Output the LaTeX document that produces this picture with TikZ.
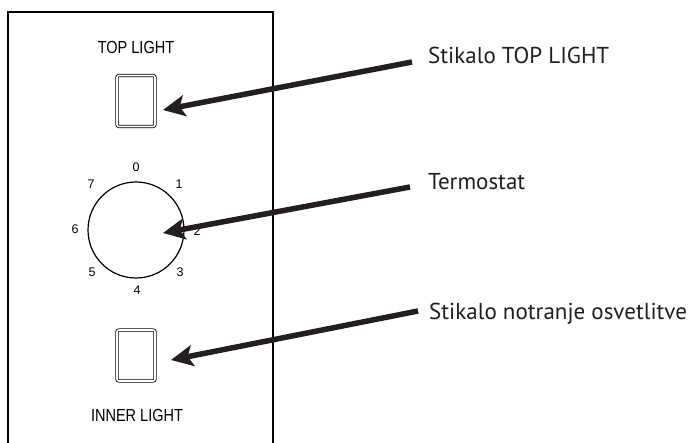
\documentclass[tikz,border=0pt]{standalone}
\usepackage{fontspec}
\usepackage{graphicx}
\usetikzlibrary{arrows.meta}
\newfontfamily\panelfont{Liberation Sans}
\newfontfamily\calloutfont{PT Sans}
\newcommand{\narrowtext}[1]{\scalebox{0.83}[1]{#1}}
\definecolor{printblack}{HTML}{231F20}

\begin{document}
\begin{tikzpicture}[x=1pt, y=-1pt, >={Stealth[length=22pt,width=21pt,inset=5pt]},
  switchbox/.style={draw, double, double distance=1.6pt, line width=0.8pt, rounded corners=2pt, minimum width=38pt, minimum height=51pt, inner sep=0pt},
  dialring/.style={draw, circle, line width=1.2pt, minimum size=96pt, inner sep=0pt},
  dialdigit/.style={font=\panelfont\fontsize{12.5}{12.5}\selectfont, inner sep=0pt},
  paneltext/.style={font=\panelfont\fontsize{17.5}{17.5}\selectfont, inner sep=0pt},
  calloutlabel/.style={font=\calloutfont\fontsize{23}{23}\selectfont, text=printblack, inner sep=0pt, anchor=base west},
  pointer/.style={->, line width=5.5pt, printblack}]
\useasboundingbox (0,0) rectangle (691,443);
\clip (0,0) rectangle (691,443);
\fill[white] (0,0) rectangle (691,443);
% front panel, cut off at the bottom
\draw[line width=2pt] (8,460) -- (8,12) -- (273,12) -- (273,460);
\node[paneltext] (topText) at (136,47) {\narrowtext{TOP LIGHT}};
\node[switchbox] (swTop) at (136,101) {};
\node[dialring] (dial) at (136,230) {};
\node[dialdigit] (d0) at (136,167) {0};
\node[dialdigit] (d1) at (179,184) {1};
\node[dialdigit] (d2) at (197,231) {2};
\node[dialdigit] (d3) at (180,272) {3};
\node[dialdigit] (d4) at (137,290) {4};
\node[dialdigit] (d5) at (92,272) {5};
\node[dialdigit] (d6) at (75,229) {6};
\node[dialdigit] (d7) at (91,184) {7};
\node[switchbox] (swInner) at (136,355.5) {};
\node[paneltext] (innerText) at (137,415) {\narrowtext{INNER LIGHT}};
% callouts
\node[calloutlabel] (lblTop) at (428,64) {Stikalo TOP LIGHT};
\node[calloutlabel] (lblDial) at (428,190) {Termostat};
\node[calloutlabel] (lblInner) at (429,320) {Stikalo notranje osvetlitve};
\coordinate (tailTop) at (412,62);
\coordinate (tipTop) at (163,110);
\coordinate (tailDial) at (410,187);
\coordinate (tipDial) at (163,233);
\coordinate (tailInner) at (418,311);
\coordinate (tipInner) at (171,360);
\draw[pointer] (tailTop) -- (tipTop);
\draw[pointer] (tailDial) -- (tipDial);
\draw[pointer] (tailInner) -- (tipInner);
\end{tikzpicture}
\end{document}
